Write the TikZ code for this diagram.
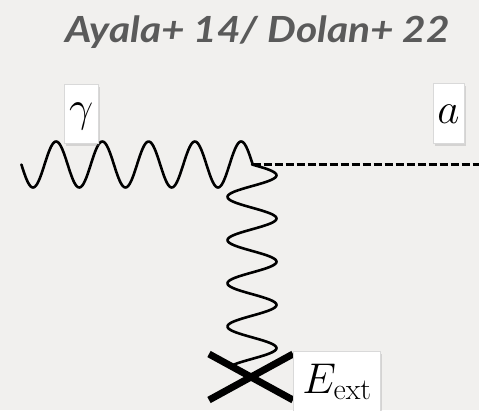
\RequirePackage{fix-cm}
\documentclass[tikz,border=0pt]{standalone}
\usepackage{fontspec}
\newfontfamily\titlefont{Lato}
\usetikzlibrary{shadows,calc}
\definecolor{bg}{HTML}{F1F0EE}
\definecolor{titlegray}{HTML}{5A5A5A}
\begin{document}
\begin{tikzpicture}[x=1pt,y=-1pt,
  wave/.style={line width=2.6pt, line join=round, line cap=round},
  scalar/.style={line width=3.2pt, dash pattern=on 8pt off 3pt},
  cross/.style={line width=7pt},
  labelbox/.style={fill=white, draw=black!15, line width=0.5pt, inner sep=0pt,
    font=\fontsize{43}{50}\selectfont,
    drop shadow={shadow xshift=1.5pt, shadow yshift=-2.5pt, opacity=0.25}}]
\useasboundingbox (0,0) rectangle (479,410);
\fill[bg] (0,0) rectangle (479,410);
% title
\node[font=\titlefont\bfseries\itshape\fontsize{36}{40}\selectfont, text=titlegray, anchor=base, inner sep=0pt]
  (title) at (257.5,42) {\scalebox{1.13}[1]{Ayala+ 14/ Dolan+ 22}};
% key points
\coordinate (gin) at (21.4,164.5);
\coordinate (v) at (252.7,164.5);
\coordinate (aout) at (480,164.5);
\coordinate (x) at (251,377);
% photon in
\draw[wave] plot[domain=21.4:252.7, samples=220, smooth] (\x, {164.5+23*sin(7.7821*(\x-21.4))});
% axion out
\draw[scalar] (v) -- (aout);
% external field photon
\draw[wave] plot[domain=0:201, samples=220, smooth] ({252+24.5*sin(8.3333*\x)}, {164.5+\x});
% cross
\draw[cross] ($(x)+(-42,-23)$) -- ($(x)+(42,23)$);
\draw[cross] ($(x)+(-42,23)$) -- ($(x)+(42,-23)$);
% labels
\node[labelbox, anchor=base, minimum width=34pt, text height=36.7pt, text depth=22.3pt]
  (g) at (81.3,121) {$\gamma$};
\node[labelbox, anchor=base, minimum width=31pt, text height=40pt, text depth=20pt]
  (a) at (448.5,123.3) {$a$};
\node[labelbox, anchor=base, minimum width=87.4pt, text height=41.6pt, text depth=26pt]
  (E) at (337,393.3) {$E_{\mathrm{ext}}$};
\end{tikzpicture}
\end{document}
